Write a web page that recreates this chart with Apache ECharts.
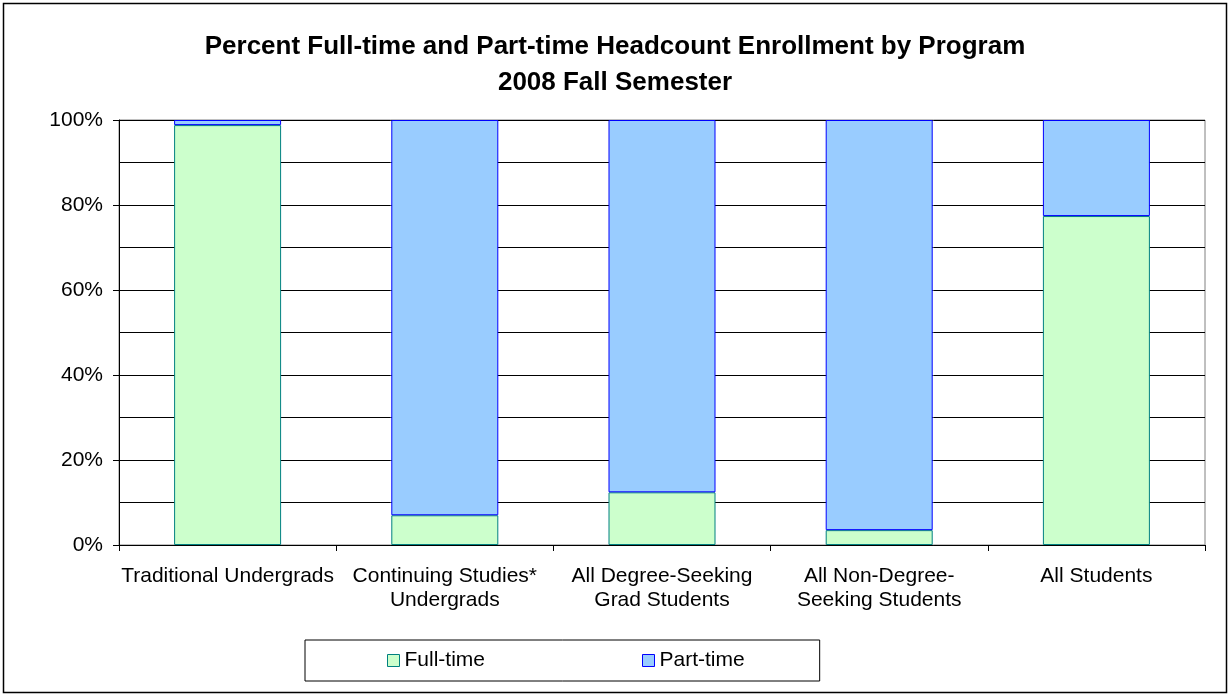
<!DOCTYPE html>
<html>
<head>
<meta charset="utf-8">
<title>Enrollment by Program</title>
<script src="https://cdn.jsdelivr.net/npm/echarts@6/dist/echarts.min.js"></script>
<style>
  html, body { margin: 0; padding: 0; background: #fff; }
  #chart { width: 1230px; height: 696px; }
</style>
</head>
<body>
<div id="chart"></div>
<script>
// data (percent of headcount)
const programs = [
  'Traditional Undergrads',
  'Continuing Studies*\nUndergrads',
  'All Degree-Seeking\nGrad Students',
  'All Non-Degree-\nSeeking Students',
  'All Students'
];
const fullTime = [98.8, 7.0, 12.4, 3.5, 77.4];
const partTime = [1.2, 93.0, 87.6, 96.5, 22.6];
const yTicks = [0, 20, 40, 60, 80, 100];

const font = 'Arial, "Liberation Sans", sans-serif';

let chart = echarts.init(document.getElementById('chart'));
let option = {
    animation: false,
    backgroundColor: '#fff',
    title: {
        text: 'Percent Full-time and Part-time Headcount Enrollment by Program\n2008 Fall Semester',
        left: 'center',
        top: 24,
        textStyle: {
            fontFamily: font,
            fontSize: 26,
            fontWeight: 'bold',
            color: '#000',
            lineHeight: 36
        }
    },
    legend: {
        left: 305,
        top: 640,
        padding: [10, 75, 10, 82],
        borderColor: '#000',
        borderWidth: 1,
        itemWidth: 12,
        itemHeight: 12,
        itemGap: 157,
        textStyle: { fontFamily: font, fontSize: 21, color: '#000' },
        data: [
            { name: 'Full-time', icon: 'rect', itemStyle: { color: '#CCFFCC', borderColor: '#008080', borderWidth: 1 } },
            { name: 'Part-time', icon: 'rect', itemStyle: { color: '#99CCFF', borderColor: '#0000FF', borderWidth: 1 } }
        ]
    },
    graphic: [{
        type: 'rect',
        shape: { x: 3.5, y: 3.5, width: 1223, height: 689 },
        style: { fill: 'none', stroke: '#000', lineWidth: 1.5 },
        silent: true
    }],
    grid: {
        left: 119,
        right: 25,
        top: 120,
        bottom: 151,
        show: true,
        borderColor: '#808080',
        borderWidth: 1
    },
    xAxis: {
        type: 'category',
        data: programs,
        axisLine: { lineStyle: { color: '#000', width: 1 } },
        axisTick: { show: true, length: 6, lineStyle: { color: '#000' } },
        axisLabel: {
            fontFamily: font,
            fontSize: 21,
            color: '#000',
            lineHeight: 24,
            margin: 19,
            interval: 0
        }
    },
    yAxis: {
        type: 'value',
        min: 0,
        max: 100,
        interval: 20,
        axisLine: { show: true, lineStyle: { color: '#000', width: 1 } },
        axisTick: { show: true, length: 6, lineStyle: { color: '#000' } },
        axisLabel: {
            fontFamily: font,
            fontSize: 21,
            color: '#000',
            margin: 16,
            formatter: function (v) { return yTicks.indexOf(v) >= 0 ? v + '%' : ''; }
        },
        splitLine: { show: true, lineStyle: { color: '#000', width: 1 } },
        minorTick: { show: false, splitNumber: 2 },
        minorSplitLine: { show: true, lineStyle: { color: '#000', width: 1 } }
    },
    series: [
        {
            name: 'Full-time',
            type: 'bar',
            stack: 'total',
            barWidth: 107,
            data: fullTime,
            itemStyle: { color: '#CCFFCC', borderColor: '#008080', borderWidth: 1 }
        },
        {
            name: 'Part-time',
            type: 'bar',
            stack: 'total',
            barWidth: 107,
            data: partTime,
            itemStyle: { color: '#99CCFF', borderColor: '#0000FF', borderWidth: 1 }
        }
    ]
};
chart.setOption(option);
</script>
</body>
</html>
